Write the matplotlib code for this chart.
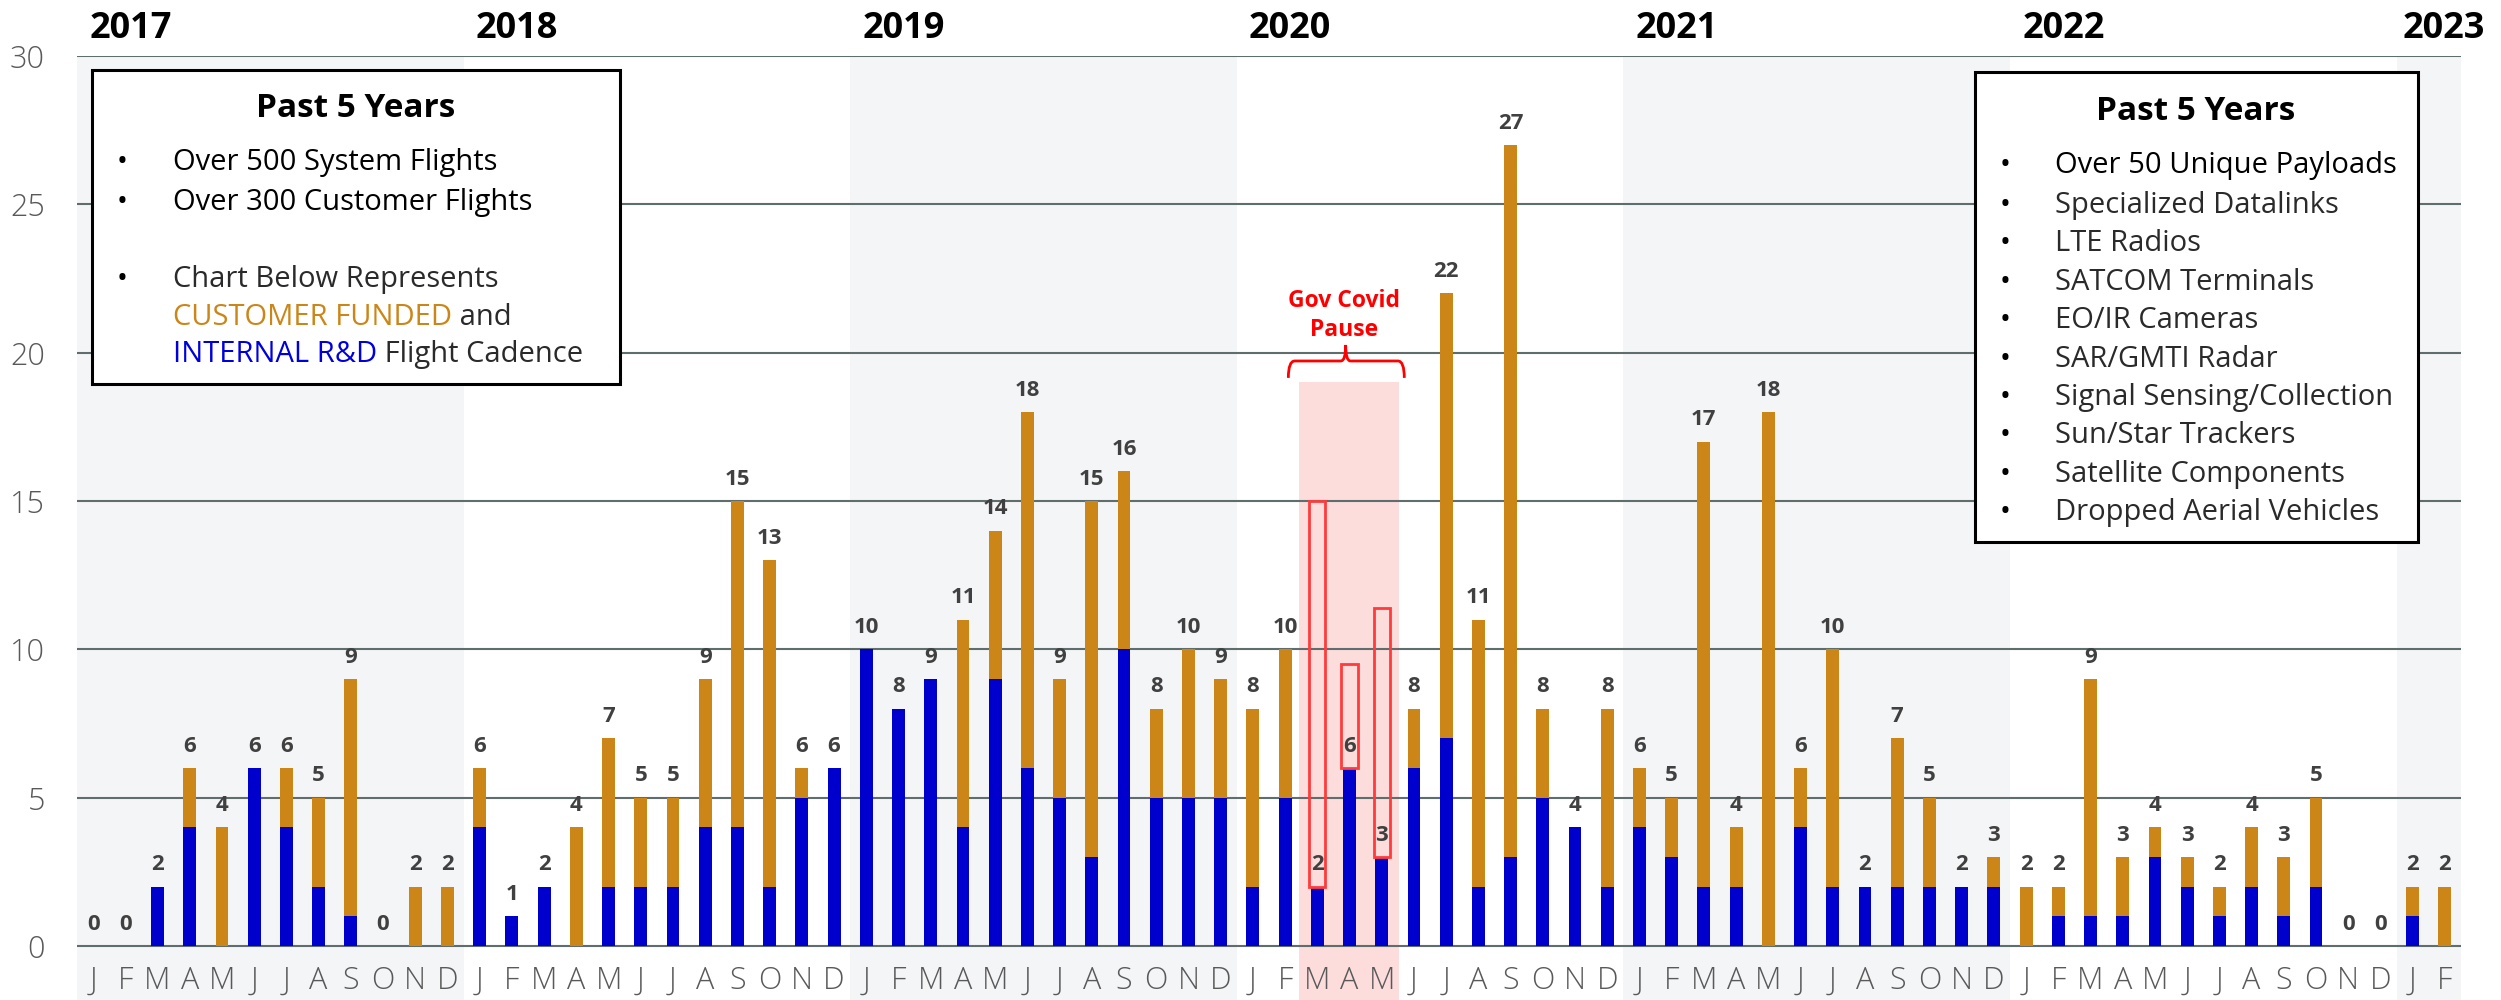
import numpy as np
import matplotlib
matplotlib.use("Agg")
import matplotlib.pyplot as plt
from matplotlib.patches import Rectangle, PathPatch
from matplotlib.path import Path

plt.rcParams["font.family"] = ["Open Sans", "DejaVu Sans"]

# ---------------------------------------------------------------------------
# Data: monthly flights, Jan 2017 .. Feb 2023
# ---------------------------------------------------------------------------
month_letters = list("JFMAMJJASOND") * 6 + list("JF")
years = [2017, 2018, 2019, 2020, 2021, 2022, 2023]

internal = [
    0, 0, 2, 4, 0, 6, 4, 2, 1, 0, 0, 0,      # 2017
    4, 1, 2, 0, 2, 2, 2, 4, 4, 2, 5, 6,      # 2018
    10, 8, 9, 4, 9, 6, 5, 3, 10, 5, 5, 5,    # 2019
    2, 5, 2, 6, 3, 6, 7, 2, 3, 5, 4, 2,      # 2020
    4, 3, 2, 2, 0, 4, 2, 2, 2, 2, 2, 2,      # 2021
    0, 1, 1, 1, 3, 2, 1, 2, 1, 2, 0, 0,      # 2022
    1, 0,                                    # 2023
]
customer = [
    0, 0, 0, 2, 4, 0, 2, 3, 8, 0, 2, 2,      # 2017
    2, 0, 0, 4, 5, 3, 3, 5, 11, 11, 1, 0,    # 2018
    0, 0, 0, 7, 5, 12, 4, 12, 6, 3, 5, 4,    # 2019
    6, 5, 0, 0, 0, 2, 15, 9, 24, 3, 0, 6,    # 2020
    2, 2, 15, 2, 18, 2, 8, 0, 5, 3, 0, 1,    # 2021
    2, 1, 8, 2, 1, 1, 1, 2, 2, 3, 0, 0,      # 2022
    1, 2,                                    # 2023
]

# Covid pause: Mar-May 2020, outlined "planned" flights
covid_idx = [38, 39, 40]
covid_planned = [15, 9.5, 11.4]

payloads = ["Specialized Datalinks", "LTE Radios", "SATCOM Terminals",
            "EO/IR Cameras", "SAR/GMTI Radar", "Signal Sensing/Collection",
            "Sun/Star Trackers", "Satellite Components",
            "Dropped Aerial Vehicles"]

BLUE = "#0000CC"
ORANGE = "#CC8517"
GRID = "#5f6d6d"
BAND = "#f4f5f7"
PINK = "#fddcdc"
RED = "#ff0000"
LABEL = "#404040"
TICK = "#595959"
SOFT = "#2a2a2a"

W, H = 2501, 1000


def fx(x):
    return x / W


def fy(y):
    return 1 - y / H


internal = np.array(internal)
customer = np.array(customer)
total = internal + customer
x = np.arange(len(total))

fig = plt.figure(figsize=(W / 100, H / 100), dpi=100)
ax = fig.add_axes([fx(77), 0.0, fx(2461) - fx(77), fy(56)])
ax.set_xlim(-0.5, len(total) - 0.5)
ax.set_ylim(-1.82, 30)
for s in ax.spines.values():
    s.set_visible(False)
ax.set_xticks([])
ax.set_yticks(range(0, 31, 5))
ax.tick_params(axis="y", length=0, pad=23, labelsize=22, labelcolor=TICK)
for t in ax.get_yticklabels():
    t.set_fontweight("light")

# alternating year bands + year labels
for k, yr in enumerate(years):
    if k % 2 == 0:
        ax.axvspan(12 * k - 0.5, min(12 * k + 11.5, len(total) - 0.5),
                   color=BAND, zorder=0, lw=0)
    ax.text(12 * k - 0.12 if yr != 2023 else 12 * k - 0.3, 30.6, str(yr),
            ha="left", va="baseline", fontsize=26, fontweight="bold",
            color="black", clip_on=False)

# covid pause shading
ax.add_patch(Rectangle((37.42, -1.82), 3.1, 19.0 + 1.82, color=PINK,
                       lw=0, zorder=0.5))

for g in range(0, 31, 5):
    ax.axhline(g, color=GRID, lw=1.5, zorder=1)

w = 0.4
ax.bar(x, internal, w, color=BLUE, zorder=2, lw=0)
ax.bar(x, customer, w, bottom=internal, color=ORANGE, zorder=2, lw=0)

for i, v in enumerate(total):
    ax.text(i, v + 0.55, f"{v}", ha="center", va="baseline", fontsize=16,
            fontweight="bold", color=LABEL, zorder=5)

for i, top in zip(covid_idx, covid_planned):
    ax.add_patch(Rectangle((i - 0.25, total[i]), 0.5, top - total[i],
                           fill=False, ec="#ff3b3b", lw=2, zorder=3))

for i, m in enumerate(month_letters):
    ax.text(i, -1.18, m, ha="center", va="center", fontsize=22,
            fontweight="light", color=TICK)

# brace + annotation
x0, x1, xm = 37.1, 40.7, 38.88
yb, yl, yt = 19.15, 19.72, 20.26
verts = [(x0, yb), (x0, yl), (x0 + 0.2, yl), (xm - 0.15, yl), (xm, yl),
         (xm, yt), (xm, yl), (xm + 0.15, yl), (x1 - 0.2, yl), (x1, yl),
         (x1, yb)]
codes = [Path.MOVETO, Path.CURVE3, Path.CURVE3, Path.LINETO, Path.CURVE3,
         Path.CURVE3, Path.CURVE3, Path.CURVE3, Path.LINETO, Path.CURVE3,
         Path.CURVE3]
ax.add_patch(PathPatch(Path(verts, codes), fc="none", ec=RED, lw=2,
                       zorder=4, capstyle="butt"))
ax.text(38.82, 21.54, "Gov Covid", ha="center", va="baseline", fontsize=16.5,
        fontweight="bold", color=RED)
ax.text(38.82, 20.56, "Pause", ha="center", va="baseline", fontsize=16.5,
        fontweight="bold", color=RED)


# ---------------------------------------------------------------------------
# Text boxes
# ---------------------------------------------------------------------------
def text_box(left, top, right, bottom):
    fig.patches.append(Rectangle((fx(left), fy(bottom)), fx(right - left),
                                 (bottom - top) / H, transform=fig.transFigure,
                                 fc="white", ec="black", lw=2.2, zorder=4))


def bullet(xb, xt, y, s, color="black", size=21):
    fig.text(fx(xb), fy(y), "\u2022", ha="left", va="baseline", fontsize=size,
             color="black", zorder=5)
    return fig.text(fx(xt), fy(y), s, ha="left", va="baseline", fontsize=size,
                    color=color, zorder=5)


def two_color(xt, y, first, c1, second, c2, size=21):
    t = fig.text(fx(xt), fy(y), first, ha="left", va="baseline",
                 fontsize=size, color=c1, zorder=5)
    fig.canvas.draw()
    bb = t.get_window_extent()
    fig.text(bb.x1 / W, fy(y), second, ha="left", va="baseline",
             fontsize=size, color=c2, zorder=5)


text_box(92, 70, 620, 384)
fig.text(fx(356), fy(117), "Past 5 Years", ha="center", va="baseline",
         fontsize=24, fontweight="bold", zorder=5)
bullet(117, 173, 170, "Over 500 System Flights")
bullet(117, 173, 210, "Over 300 Customer Flights")
bullet(117, 173, 287, "Chart Below Represents", color=SOFT)
two_color(173, 325, "CUSTOMER FUNDED", ORANGE, " and", SOFT)
two_color(173, 362, "INTERNAL R&D", "#0000DD", " Flight Cadence", SOFT)

text_box(1975, 72, 2418, 542)
fig.text(fx(2196), fy(120), "Past 5 Years", ha="center", va="baseline",
         fontsize=24, fontweight="bold", zorder=5)
bullet(2000, 2055, 173, "Over 50 Unique Payloads")
for k, p in enumerate(payloads):
    bullet(2000, 2055, 213 + k * 38.4, p, color=SOFT)

fig.savefig("out.png", dpi=100)
